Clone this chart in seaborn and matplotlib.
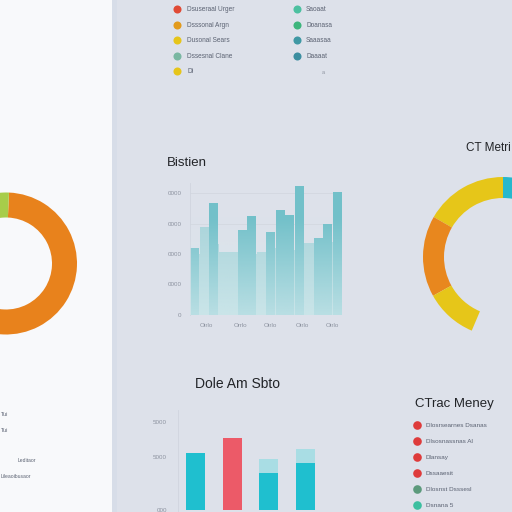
import numpy as np
import pandas as pd
import matplotlib
matplotlib.use("Agg")
import matplotlib.pyplot as plt
from matplotlib.lines import Line2D
import seaborn as sns

# ---------------- data ----------------
# top legend
legend_top_left_labels = ["Dsuseraal Urger", "Dsssonal Argn", "Dusonal Sears", "Dssesnal Clane", "Di"]
legend_top_left_colors = ["#e04a35", "#e29a1c", "#e6c51a", "#79b7a2", "#e6c51a"]
legend_top_right_labels = ["Saoaat", "Doanasa", "Saaasaa", "Daaaat"]
legend_top_right_colors = ["#4cc0a0", "#3db57c", "#3f98a4", "#3c8ea0"]

# left donut
left_donut_values = [240, 110, 10]
left_donut_colors = ["#e8821c", "#dde1ea", "#a7cd4a"]

# middle bar chart "Bistien"
mid_slots = [f"s{i}" for i in range(16)]
mid_front = [55, np.nan, 92, np.nan, np.nan, 70, 81, np.nan, 68, 86, 82, 106, np.nan, 63, 75, 101]
mid_back = [50, 72, 58, 52, 52, 55, 50, 52, 55, 50, 53, 55, 59, 55, 60, 55]
mid_yticks = [0, 25, 50, 75, 100]
mid_ytick_labels = ["0", "0000", "0000", "0000", "0000"]
mid_xtick_pos = [1.2, 4.8, 8.0, 11.3, 14.5]
mid_xtick_labels = ["Otrlo", "Orrlo", "Otrlo", "Otrlo", "Otrlo"]

# right donut "CT Metrics"
right_donut_values = [60, 59, 38, 53, 150]
right_donut_colors = ["#e6c619", "#e8871e", "#e6c619", "none", "#26b8cc"]

# bottom bar chart "Dole Am Sbto"
bot_cats = ["A", "B", "C", "D"]
bot_front = [3240, 4090, 2100, 2670]
bot_back = [np.nan, np.nan, 2900, 3470]
bot_colors = ["#1fbfcf", "#ec5a68", "#1fbfcf", "#1fbfcf"]
bot_yticks = [0, 3000, 5000]
bot_ytick_labels = ["000", "5000", "5000"]

# right legend "CTrac Meney"
legend_right_labels = ["Dlosrsearnes Dsanas", "Dlsosnassnas Al", "Dlansay", "Dssaaesit", "Dlosnst Dsssesl", "Dsnana 5"]
legend_right_colors = ["#de3b3b", "#de3b3b", "#de3b3b", "#de3b3b", "#5c9a7c", "#3cbfa0"]

# left panel small labels
left_small_texts = ["Tui", "Tui", "Leditaor", "Lileaoibusaor"]

# ---------------- styling ----------------
sns.set_style("white")
plt.rcParams["font.family"] = ["Liberation Sans", "DejaVu Sans"]

BG = "#dde1ea"
PANEL = "#f8f9fb"
TICK = "#8d93a0"
LABEL = "#5b6272"

W = H = 512
fig = plt.figure(figsize=(5.12, 5.12), dpi=100, facecolor=BG)


def rect(x0, y0, x1, y1):
    return [x0 / W, 1 - y1 / H, (x1 - x0) / W, (y1 - y0) / H]


def fx(x):
    return x / W


def fy(y):
    return 1 - y / H


# left white panel
panel = fig.add_axes(rect(0, 0, 112, 512))
panel.set_facecolor(PANEL)
panel.set_xticks([])
panel.set_yticks([])
for s in panel.spines.values():
    s.set_visible(False)
# slight separator band
sep = fig.add_axes(rect(112, 0, 117, 512))
sep.set_facecolor("#d7dde8")
sep.set_xticks([])
sep.set_yticks([])
for s in sep.spines.values():
    s.set_visible(False)

# overlay axes in pixel coordinates for donuts
pax = fig.add_axes([0, 0, 1, 1])
pax.patch.set_alpha(0)
pax.pie(left_donut_values, colors=left_donut_colors, startangle=87.6, counterclock=False,
        center=(6, 512 - 263.5), radius=71, wedgeprops=dict(width=25, linewidth=0), frame=True)
pax.pie(right_donut_values, colors=right_donut_colors, startangle=90, counterclock=True,
        center=(503, 512 - 257), radius=80, wedgeprops=dict(width=21, linewidth=0), frame=True)
pax.set_xlim(0, 512)
pax.set_ylim(0, 512)
pax.set_aspect("auto")
pax.set_axis_off()

# ---------------- middle bar chart ----------------
ax = fig.add_axes(rect(190, 183, 342, 315))
ax.patch.set_alpha(0)
dfb = pd.DataFrame({"slot": mid_slots, "v": mid_back})
dff = pd.DataFrame({"slot": mid_slots, "v": mid_front}).dropna()
sns.barplot(data=dfb, x="slot", y="v", order=mid_slots, color="#a9d4da", width=1.0,
            errorbar=None, ax=ax, saturation=1, linewidth=0)
sns.barplot(data=dff, x="slot", y="v", order=mid_slots, color="#72c0c9", width=0.98,
            errorbar=None, ax=ax, saturation=1, linewidth=0)
ymax = (315 - 183) / 1.22
ax.set_xlim(-0.5, 15.5)
ax.set_ylim(0, ymax)
# fade overlay towards the bottom
grad = np.zeros((100, 2, 4))
bgc = matplotlib.colors.to_rgb("#d8ecef")
grad[..., :3] = bgc
yy = np.linspace(1, 0, 100)  # top -> bottom
alpha = np.clip((0.75 - yy) / 0.75, 0, 1) * 0.7
grad[..., 3] = alpha[:, None]
ax.imshow(grad, extent=(-0.5, 15.5, 0, ymax), aspect="auto", zorder=5, origin="upper")
ax.set_xlim(-0.5, 15.5)
ax.set_ylim(0, ymax)
ax.set_yticks(mid_yticks)
ax.set_yticklabels(mid_ytick_labels)
ax.set_xticks(mid_xtick_pos)
ax.set_xticklabels(mid_xtick_labels)
ax.tick_params(axis="both", length=0, labelsize=4.5, colors=TICK, pad=6)
ax.set_xlabel("")
ax.set_ylabel("")
for k in ["top", "right", "bottom"]:
    ax.spines[k].set_visible(False)
ax.spines["left"].set_color("#d0d5df")
ax.spines["left"].set_linewidth(0.6)
for v in [75, 100]:
    ax.axhline(v, color="#d3d7e0", lw=0.6, zorder=0)

# ---------------- bottom bar chart ----------------
bx = fig.add_axes(rect(178, 410, 330, 512))
bx.patch.set_alpha(0)
dbb = pd.DataFrame({"c": bot_cats, "v": bot_back}).dropna()
dbf = pd.DataFrame({"c": bot_cats, "v": bot_front})
sns.barplot(data=dbb, x="c", y="v", order=bot_cats, color="#a9dde4", width=0.52,
            errorbar=None, ax=bx, saturation=1, linewidth=0)
sns.barplot(data=dbf, x="c", y="v", order=bot_cats, hue="c", hue_order=bot_cats,
            palette=bot_colors, legend=False, width=0.52, errorbar=None, ax=bx,
            saturation=1, linewidth=0)
bx.set_xlim(-0.477, 3.67)
bx.set_ylim(-114, 5682)
bx.set_yticks(bot_yticks)
bx.set_yticklabels(bot_ytick_labels)
bx.set_xticks([])
bx.tick_params(axis="y", length=0, labelsize=4.5, colors=TICK, pad=8)
bx.set_xlabel("")
bx.set_ylabel("")
for k in ["top", "right", "bottom"]:
    bx.spines[k].set_visible(False)
bx.spines["left"].set_color("#d0d5df")
bx.spines["left"].set_linewidth(0.6)

# ---------------- legends ----------------
def make_legend(labels, colors, x_marker, y_first, msize, fsize=5, textpad=1.1, spacing=1.3):
    handles = [Line2D([0], [0], marker="o", linestyle="none", markersize=msize,
                      markerfacecolor=c, markeredgecolor="none") for c in colors]
    hl = 1.0
    fs_px = fsize * 100 / 72
    leg = fig.legend(handles, labels, loc="upper left",
                     bbox_to_anchor=(fx(x_marker - hl * fs_px / 2), fy(y_first - fs_px * 0.55)),
                     frameon=False, fontsize=fsize, handlelength=hl, handletextpad=textpad,
                     labelspacing=spacing, borderpad=0, borderaxespad=0)
    for t in leg.get_texts():
        t.set_color(LABEL)
    return leg


make_legend(legend_top_left_labels, legend_top_left_colors, 177, 10, 5.8, fsize=4.7)
make_legend(legend_top_right_labels, legend_top_right_colors, 297, 10, 5.8, fsize=4.7, textpad=0.9)
fig.text(fx(323), fy(72), "a", fontsize=4, color=TICK, va="center", ha="center")
make_legend(legend_right_labels, legend_right_colors, 417, 426, 6.2, fsize=4.6, textpad=0.9, spacing=1.65)

# ---------------- titles ----------------
fig.text(fx(167), fy(163), "Bistien", fontsize=9.5, color="#222428", va="center", ha="left")
fig.text(fx(195), fy(384), "Dole Am Sbto", fontsize=10, color="#222428", va="center", ha="left")
fig.text(fx(415), fy(404), "CTrac Meney", fontsize=9.5, color="#222428", va="center", ha="left")
fig.text(fx(466), fy(148), "CT Metri", fontsize=8.5, color="#222428", va="center", ha="left")

# left panel small texts
fig.text(fx(1), fy(414), left_small_texts[0], fontsize=4, color=LABEL, va="center", ha="left")
fig.text(fx(1), fy(430), left_small_texts[1], fontsize=4, color=LABEL, va="center", ha="left")
fig.text(fx(18), fy(461), left_small_texts[2], fontsize=3.6, color=LABEL, va="center", ha="left")
fig.text(fx(1), fy(477), left_small_texts[3], fontsize=3.6, color=LABEL, va="center", ha="left")

fig.savefig("out.png", dpi=100, facecolor=BG)
